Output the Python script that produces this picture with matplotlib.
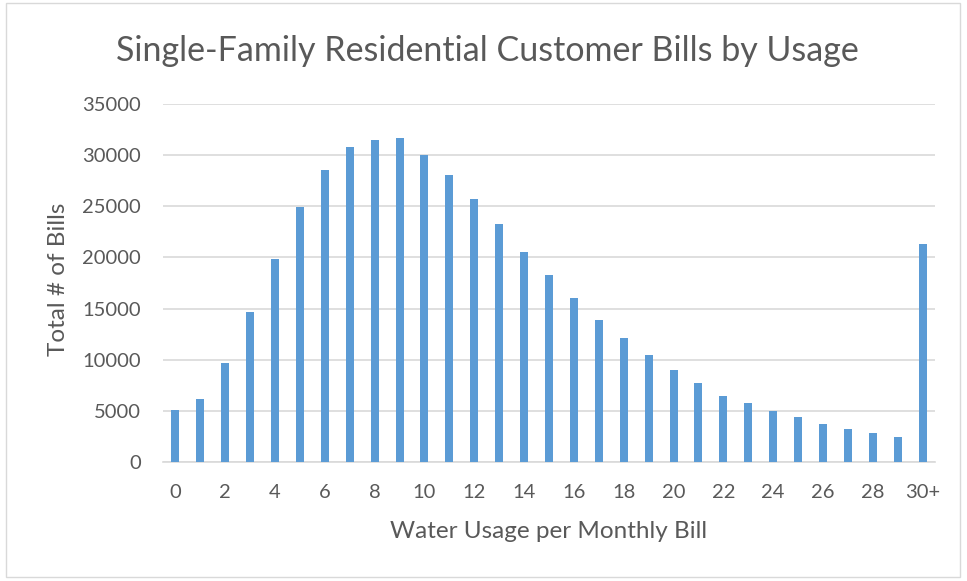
import numpy as np
import matplotlib.pyplot as plt
from matplotlib.patches import Rectangle

# usage bins 0..29 plus the 30+ bucket
categories = [str(i) for i in range(30)] + ['30+']
bills = [5100, 6200, 9650, 14700, 19820, 24900, 28590, 30770, 31520, 31650,
         30020, 28100, 25680, 23300, 20500, 18250, 16000, 13920, 12120, 10460,
         9030, 7760, 6490, 5740, 5020, 4400, 3680, 3190, 2800, 2410, 21320]
tick_labels = [str(i) if i % 2 == 0 else '' for i in range(30)] + ['30+']
y_ticks = [0, 5000, 10000, 15000, 20000, 25000, 30000, 35000]

plt.rcParams['font.family'] = ['Lato', 'DejaVu Sans']
text_col = '#595959'

fig = plt.figure(figsize=(9.67, 5.81), dpi=100)
ax = fig.add_axes([163 / 967, 1 - 462 / 581, 772 / 967, 358 / 581])

x = np.arange(len(categories))
ax.bar(x, bills, width=0.32, color='#5B9BD5', zorder=3)

ax.set_xlim(-0.5, len(categories) - 0.5)
ax.set_ylim(0, 35000)
ax.set_yticks(y_ticks)
ax.set_yticklabels([str(v) for v in y_ticks])
ax.set_xticks(x)
ax.set_xticklabels(tick_labels)
ax.tick_params(axis='both', length=0, labelsize=14.5, colors=text_col)
ax.tick_params(axis='x', pad=16)
ax.tick_params(axis='y', pad=16)
ax.grid(axis='y', color='#D9D9D9', linewidth=1.2, zorder=0)
for s in ['top', 'right', 'left']:
    ax.spines[s].set_visible(False)
ax.spines['bottom'].set_color('#D9D9D9')
ax.spines['bottom'].set_linewidth(1.2)

ax.set_xlabel('Water Usage per Monthly Bill', fontsize=17.5, color=text_col, labelpad=14)
ax.set_ylabel('Total # of Bills', fontsize=17.5, color=text_col)
ax.yaxis.set_label_coords(-0.122, 0.51)
fig.text(487 / 967, 1 - 51 / 581, 'Single-Family Residential Customer Bills by Usage',
         ha='center', va='center', fontsize=24.5, color=text_col)

# outer chart border
fig.patches.append(Rectangle((6 / 967, 4 / 581), 954 / 967, 574 / 581, transform=fig.transFigure,
                             fill=False, edgecolor='#D9D9D9', linewidth=1))

fig.savefig('out.png', dpi=100)
